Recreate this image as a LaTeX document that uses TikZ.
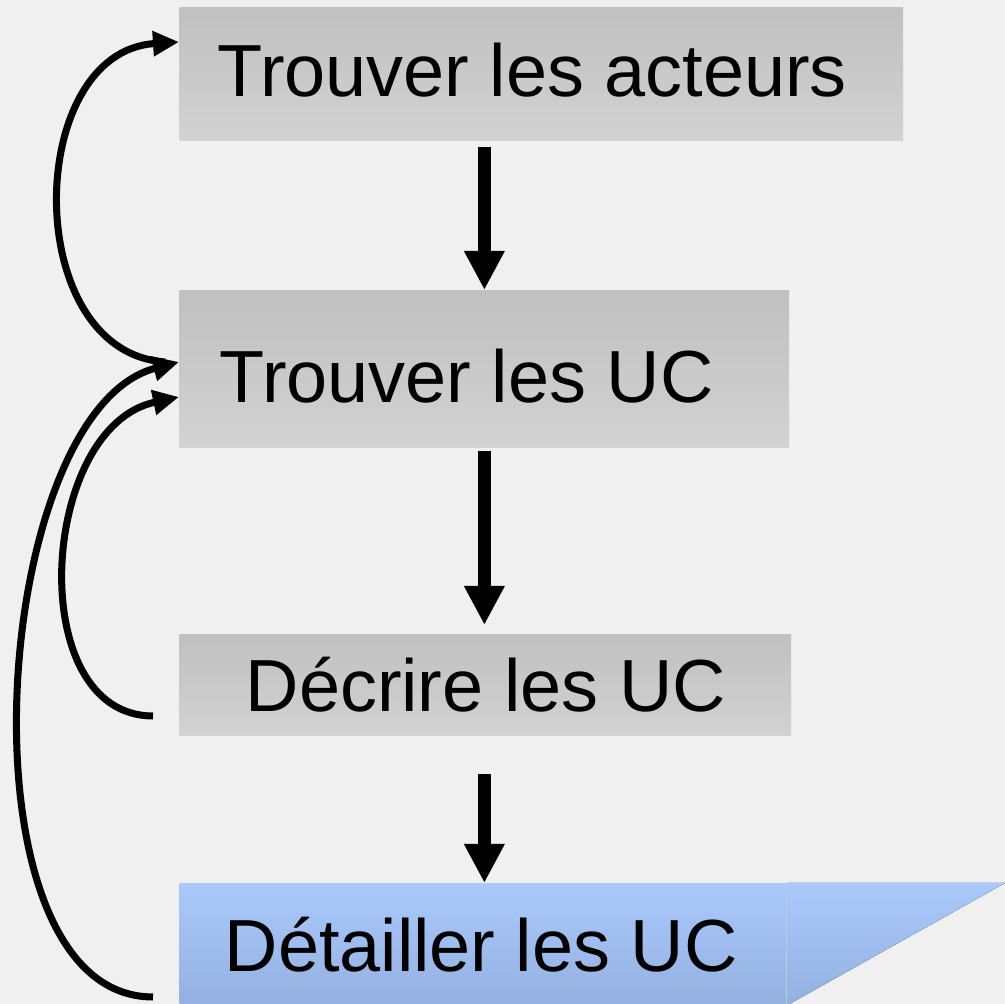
\documentclass[tikz,border=0pt]{standalone}
\usepackage{fontspec}
\setmainfont{Liberation Sans}
\usetikzlibrary{arrows.meta, calc}

\definecolor{paper}{HTML}{F0F0F0}
\definecolor{boxtop}{HTML}{C0C0C0}
\definecolor{boxbot}{HTML}{D2D2D2}
\definecolor{bluetop}{HTML}{AAC9FB}
\definecolor{bluebot}{HTML}{93B0E0}

\tikzset{
	stepbox/.style={rectangle, inner sep=0pt, anchor=north west,
		top color=boxtop, bottom color=boxbot},
	bluebox/.style={rectangle, inner sep=0pt, anchor=north west,
		top color=bluetop, bottom color=bluebot},
	steptext/.style={inner sep=0pt, anchor=base west,
		font=\fontsize{21pt}{25pt}\selectfont},
	flow/.style={line width=3.7pt, -{Triangle[length=11.1pt, width=10.8pt]}},
	backarrow/.style={line width=2pt, -{Triangle[length=7.4pt, width=6.8pt]}}
}

\begin{document}
\begin{tikzpicture}[x=0.01cm, y=-0.01cm]
		% paper
		\useasboundingbox (0,0) rectangle (1005,1004);
		\fill[paper] (0,0) rectangle (1005,1004);
		% the four steps
		\node[stepbox, minimum width=7.23cm, minimum height=1.33cm] (acteurs) at (179,7) {};
		\node[stepbox, minimum width=6.09cm, minimum height=1.57cm] (trouver) at (179,290) {};
		\node[stepbox, minimum width=6.11cm, minimum height=1.01cm] (decrire) at (179,634) {};
		\node[bluebox, minimum width=6.06cm, minimum height=1.21cm] (detail) at (179,883) {};
		\coordinate (corner) at (1005,883);
		\fill[top color=bluetop, bottom color=bluebot] (detail.north east) -- (corner) -- (detail.south east) -- cycle;
		% texts
		\node[steptext] (tacteurs) at (217,97) {Trouver les acteurs};
		\node[steptext] (ttrouver) at (219,403) {Trouver les UC};
		\node[steptext] (tdecrire) at (245,712) {Décrire les UC};
		\node[steptext] (tdetail) at (224,972) {Détailler les UC};
		% forward arrows
		\draw[flow, shorten <=0.06cm] (acteurs.south -| trouver.north) -- (trouver.north);
		\draw[flow, shorten <=0.03cm, shorten >=0.09cm] (trouver.south) -- (decrire.north -| trouver.south);
		\draw[flow, shorten <=0.38cm] (decrire.south -| trouver.south) -- (detail.north -| trouver.south);
		% arrows going back
		\draw[backarrow] ($(trouver.north west)+(-14,72)$) .. controls +(-145,-10) and +(-155,10) .. ($(acteurs.north west)+(0,35)$);
		\draw[backarrow] ($(decrire.north west)+(-26,82)$) .. controls +(-130,0) and +(-140,30) .. ($(trouver.north west)+(0,107)$);
		\draw[backarrow] ($(detail.north west)+(-26,114)$) .. controls +(-200,0) and +(-190,50) .. ($(trouver.north west)+(0,72)$);
	\end{tikzpicture}
\end{document}
